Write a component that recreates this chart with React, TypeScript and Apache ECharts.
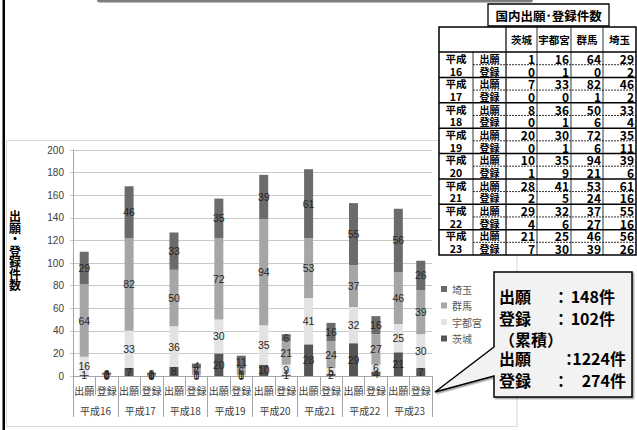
import React, { useEffect, useRef } from "react";
import * as echarts from "echarts";

const years = ["平成16", "平成17", "平成18", "平成19", "平成20", "平成21", "平成22", "平成23"];
const kinds = ["出願", "登録"];
const prefs = ["茨城", "宇都宮", "群馬", "埼玉"];
const prefColors = ["#555555", "#e3e3e3", "#a6a6a6", "#6b6b6b"];

const appIbaraki = [1, 7, 8, 20, 10, 28, 29, 21];
const appUtsunomiya = [16, 33, 36, 30, 35, 41, 32, 25];
const appGunma = [64, 82, 50, 72, 94, 53, 37, 46];
const appSaitama = [29, 46, 33, 35, 39, 61, 55, 56];

const regIbaraki = [0, 0, 0, 0, 1, 2, 4, 7];
const regUtsunomiya = [1, 0, 1, 1, 9, 5, 6, 30];
const regGunma = [0, 1, 6, 6, 21, 24, 27, 39];
const regSaitama = [2, 2, 4, 11, 6, 16, 16, 26];

const yTicks = { min: 0, max: 200, interval: 20 };

const CJK = '"Noto Sans CJK JP", sans-serif';
const LAT = '"Liberation Sans", Arial, sans-serif';

export default function App() {
  const ref = useRef<HTMLDivElement>(null);
  useEffect(() => {
    if (!ref.current) return;
    const chart = echarts.init(ref.current, null, { renderer: "svg" });

    const apps = [appIbaraki, appUtsunomiya, appGunma, appSaitama];
    const regs = [regIbaraki, regUtsunomiya, regGunma, regSaitama];
    const cats: string[] = years.flatMap(() => kinds);

    const series = prefs.map((p, pi) => ({
      name: p,
      type: "bar",
      stack: "total",
      barWidth: 9,
      xAxisIndex: 0,
      itemStyle: { color: prefColors[pi] },
      label: {
        show: true,
        position: "inside",
        color: "#262626",
        fontSize: 10.5,
        fontFamily: LAT,
      },
      data: years.flatMap((_, i) => [apps[pi][i], regs[pi][i]]),
    }));

    const appTot = years.map((_, i) => apps.reduce((s, a) => s + a[i], 0));
    const regTot = years.map((_, i) => regs.reduce((s, a) => s + a[i], 0));
    const last = years.length - 1;
    const appCum = appTot.reduce((s, v) => s + v, 0);
    const regCum = regTot.reduce((s, v) => s + v, 0);

    // table geometry
    const X = [439, 473, 506, 537, 571, 603, 636];
    const top = 27;
    const hb = 52;
    const bottom = 255;
    const rh = (bottom - hb) / (years.length * 2);

    const txt = (x: number, y: number, text: string, opts: any = {}) => ({
      type: "text",
      x,
      y,
      z: 20,
      style: {
        text,
        fill: opts.fill || "#000",
        fontSize: opts.fontSize || 10,
        fontWeight: opts.fontWeight || "bold",
        fontFamily: opts.fontFamily || CJK,
        align: opts.align || "center",
        verticalAlign: "middle",
        textAlign: opts.align || "center",
        textVerticalAlign: "middle",
        lineHeight: opts.lineHeight,
      },
    });
    const ln = (x1: number, y1: number, x2: number, y2: number, lw: number, dash?: number[]) => ({
      type: "line",
      z: 19,
      shape: { x1, y1, x2, y2 },
      style: { stroke: "#000", lineWidth: lw, lineDash: dash },
    });

    const table: any[] = [];
    table.push({
      type: "rect",
      z: 18,
      shape: { x: X[0], y: top, width: X[6] - X[0], height: bottom - top },
      style: { fill: "#fff", stroke: "#000", lineWidth: 1.5 },
    });
    table.push(ln(X[0], hb, X[6], hb, 1.5));
    table.push(ln(X[2], top, X[2], bottom, 1.2));
    for (let c = 3; c <= 5; c++) table.push(ln(X[c], top, X[c], bottom, 0.8));
    table.push(ln(X[1], hb, X[1], bottom, 0.8));
    for (let i = 1; i < years.length; i++) {
      const y = hb + 2 * i * rh;
      table.push(ln(X[0], y, X[6], y, 1.5));
    }
    for (let i = 0; i < years.length; i++) {
      const y = hb + (2 * i + 1) * rh;
      table.push(ln(X[1], y, X[6], y, 0.8, [2, 1]));
    }
    prefs.forEach((p, pi) => {
      table.push(txt((X[pi + 2] + X[pi + 3]) / 2, 39.5, p, { fontSize: 10.5 }));
    });
    years.forEach((yr, i) => {
      kinds.forEach((k, ki) => {
        const r = 2 * i + ki;
        const yc = hb + (r + 0.5) * rh;
        table.push(
          txt((X[0] + X[1]) / 2, yc, ki === 0 ? "平成" : yr.replace("平成", ""), { fontSize: 10.5 })
        );
        table.push(txt((X[1] + X[2]) / 2, yc, k, { fontSize: 10 }));
        const src = ki === 0 ? apps : regs;
        prefs.forEach((_, pi) => {
          table.push(
            txt(X[pi + 3] - 2, yc, String(src[pi][i]), { fontSize: 12, align: "right" })
          );
        });
      });
    });

    const callout = [
      {
        type: "polygon",
        z: 15,
        shape: {
          points: [
            [494, 272],
            [632, 272],
            [632, 397],
            [494, 397],
            [494, 376],
            [435, 392],
            [494, 347],
          ],
        },
        style: {
          fill: "#f2f2f2",
          stroke: "#000",
          lineWidth: 1.5,
          shadowColor: "rgba(0,0,0,0.35)",
          shadowOffsetX: 1.5,
          shadowOffsetY: 1.5,
          shadowBlur: 1,
        },
      },
      txt(499, 296, "出願", { fontSize: 16, align: "left" }),
      txt(553, 296, "：", { fontSize: 16, align: "left" }),
      txt(615, 296, `${appTot[last]}件`, { fontSize: 16, align: "right" }),
      txt(499, 318, "登録", { fontSize: 16, align: "left" }),
      txt(553, 318, "：", { fontSize: 16, align: "left" }),
      txt(615, 318, `${regTot[last]}件`, { fontSize: 16, align: "right" }),
      txt(499, 339, "（累積）", { fontSize: 16, align: "left" }),
      txt(499, 358, "出願", { fontSize: 16, align: "left" }),
      txt(561, 358, "：", { fontSize: 16, align: "left" }),
      txt(626, 358, `${appCum}件`, { fontSize: 16, align: "right" }),
      txt(499, 380, "登録", { fontSize: 16, align: "left" }),
      txt(553, 380, "：", { fontSize: 16, align: "left" }),
      txt(626, 380, `${regCum}件`, { fontSize: 16, align: "right" }),
    ];

    const decor = [
      {
        type: "rect",
        z: 1,
        shape: { x: 6.5, y: 140.5, width: 510.5, height: 286 },
        style: { fill: "none", stroke: "#d9d9d9", lineWidth: 1 },
      },
      {
        type: "rect",
        z: 1,
        shape: { x: 2.5, y: 0, width: 2.5, height: 430 },
        style: { fill: "#000" },
      },
      {
        type: "rect",
        z: 1,
        shape: { x: 97, y: -3, width: 436, height: 5.5, r: 3 },
        style: { fill: "#7f7f7f" },
      },
      {
        type: "rect",
        z: 18,
        shape: { x: 488, y: 4, width: 121, height: 22 },
        style: { fill: "#fff", stroke: "#000", lineWidth: 1.3 },
      },
      txt(548.5, 15.5, "国内出願･登録件数", { fontSize: 12.5 }),
      txt(15, 250, "出\n願\n・\n登\n録\n件\n数", { fontSize: 12, lineHeight: 11.5 }),
    ];

    chart.setOption({
      animation: false,
      backgroundColor: "#fff",
      textStyle: { fontFamily: CJK },
      grid: { left: 73, right: 205, top: 150, bottom: 54, containLabel: false },
      legend: {
        orient: "vertical",
        left: 436,
        top: 279,
        itemWidth: 6,
        itemHeight: 6,
        itemGap: 6.5,
        icon: "rect",
        data: ["埼玉", "群馬", "宇都宮", "茨城"],
        textStyle: { fontSize: 10, color: "#595959", fontFamily: CJK },
      },
      xAxis: [
        {
          type: "category",
          data: cats,
          position: "bottom",
          axisLine: { lineStyle: { color: "#a6a6a6" } },
          axisTick: { show: true, length: 19, interval: 0, lineStyle: { color: "#a6a6a6" } },
          axisLabel: { interval: 0, margin: 9, fontSize: 10, color: "#404040", fontFamily: CJK },
        },
        {
          type: "category",
          data: years,
          position: "bottom",
          offset: 0,
          axisLine: { show: false },
          axisTick: { show: true, length: 41, interval: 0, lineStyle: { color: "#a6a6a6" } },
          axisLabel: { interval: 0, margin: 29, fontSize: 10, color: "#404040", fontFamily: CJK },
        },
      ],
      yAxis: {
        type: "value",
        min: yTicks.min,
        max: yTicks.max,
        interval: yTicks.interval,
        axisLine: { show: true, lineStyle: { color: "#a6a6a6" } },
        axisTick: { show: true, length: 3, lineStyle: { color: "#c8c8c8" } },
        splitLine: { lineStyle: { color: "#c8c8c8" } },
        axisLabel: { fontSize: 10, color: "#404040", margin: 9, fontFamily: LAT },
      },
      series,
      graphic: { elements: [...decor, ...table, ...callout] },
    });
    return () => chart.dispose();
  }, []);
  return (
    <div
      ref={ref}
      style={{ position: "fixed", left: 0, top: 0, width: 637, height: 430 }}
    />
  );
}
